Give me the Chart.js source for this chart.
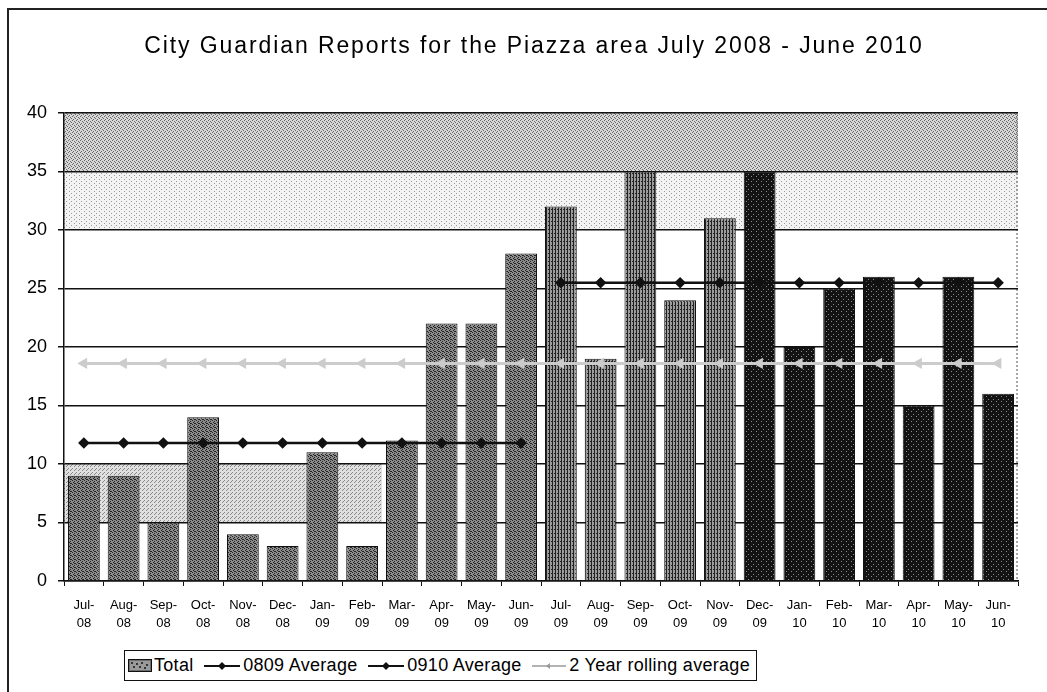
<!DOCTYPE html>
<html>
<head>
<meta charset="utf-8">
<title>City Guardian Reports</title>
<script src="https://cdn.jsdelivr.net/npm/chart.js@4.4.1/dist/chart.umd.min.js"></script>
<style>
  html, body { margin: 0; padding: 0; background: #fff; }
  #wrap { position: relative; width: 1047px; height: 692px; overflow: hidden; }
  #frame { position: absolute; left: 7px; top: 8px; width: 1100px; height: 700px;
           border-left: 2px solid #222; border-top: 2px solid #222; }
  #chart { position: absolute; left: 0; top: 0; }
  #legend { position: absolute; left: 124px; top: 650px; width: 633px; height: 31px; box-sizing: border-box;
            border: 1.5px solid #111; background: #fff; display: flex; align-items: center;
            justify-content: space-between; padding: 0 6px 0 3px;
            font: 18px 'Liberation Sans', Arial, sans-serif; letter-spacing: 0.3px; color: #000; white-space: nowrap; }
  #legend .sw { display: inline-block; margin-right: 2px; }
  #legend .item { display: inline-flex; align-items: center; }
</style>
</head>
<body>
<div id="wrap">
  <div id="frame"></div>
  <canvas id="chart" width="1047" height="692"></canvas>
  <div id="legend"></div>
</div>
<script>
// valeurs
var months = ['Jul-08', 'Aug-08', 'Sep-08', 'Oct-08', 'Nov-08', 'Dec-08', 'Jan-09', 'Feb-09',
              'Mar-09', 'Apr-09', 'May-09', 'Jun-09', 'Jul-09', 'Aug-09', 'Sep-09', 'Oct-09',
              'Nov-09', 'Dec-09', 'Jan-10', 'Feb-10', 'Mar-10', 'Apr-10', 'May-10', 'Jun-10'];
var totals = [9, 9, 5, 14, 4, 3, 11, 3, 12, 22, 22, 28,
              32, 19, 35, 24, 31, 35, 20, 25, 26, 15, 26, 16];
var avg0809 = [11.8, 11.8, 11.8, 11.8, 11.8, 11.8, 11.8, 11.8, 11.8, 11.8, 11.8, 11.8,
               null, null, null, null, null, null, null, null, null, null, null, null];
var avg0910 = [null, null, null, null, null, null, null, null, null, null, null, null,
               25.5, 25.5, 25.5, 25.5, 25.5, 25.5, 25.5, 25.5, 25.5, 25.5, 25.5, 25.5];
var rolling = [18.6, 18.6, 18.6, 18.6, 18.6, 18.6, 18.6, 18.6, 18.6, 18.6, 18.6, 18.6,
               18.6, 18.6, 18.6, 18.6, 18.6, 18.6, 18.6, 18.6, 18.6, 18.6, 18.6, 18.6];
var yTicks = [0, 5, 10, 15, 20, 25, 30, 35, 40];
var seriesNames = ['Total', '0809 Average', '0910 Average', '2 Year rolling average'];
var chartTitle = 'City Guardian Reports for the Piazza area July 2008 - June 2010';

(function () {
  'use strict';

  var FONT = "'Liberation Sans', Arial, sans-serif";
  var INK = '#111111';
  var ROLL = '#cccccc';

  // petites trames façon impression Excel
  function makePattern(w, h, base, dots, dotColor) {
    var c = document.createElement('canvas');
    c.width = w; c.height = h;
    var x = c.getContext('2d');
    x.fillStyle = base;
    x.fillRect(0, 0, w, h);
    x.fillStyle = dotColor;
    dots.forEach(function (d) { x.fillRect(d[0], d[1], d[2] || 1, d[3] || 1); });
    return x.createPattern(c, 'repeat');
  }

  var checker = makePattern(4, 4, '#8c8c8c', [[0, 0], [2, 1], [1, 2], [3, 3], [2, 3]], '#222222');
  var stripes = makePattern(3, 4, '#9c9c9c', [[0, 0, 1, 4], [2, 1]], '#222222');
  var dark = makePattern(5, 5, '#131313', [[1, 1], [3, 4]], '#8a8a8a');
  var bandTop = makePattern(4, 4, '#d8d8d8', [[0, 0], [2, 1], [1, 3], [3, 2]], '#666666');
  var bandMid = makePattern(5, 4, '#f3f3f3', [[1, 1], [4, 3]], '#9a9a9a');
  var bandLow = makePattern(4, 4, '#e0e0e0', [[0, 0], [2, 2], [3, 1]], '#888888');

  var barFill = totals.map(function (v, i) {
    if (i < 12) return checker;
    if (i < 17) return stripes;
    return dark;
  });

  var plotBackground = {
    id: 'plotBackground',
    beforeDraw: function (chart) {
      var a = chart.chartArea, y = chart.scales.y, x = chart.scales.x, ctx = chart.ctx;
      ctx.save();
      ctx.fillStyle = bandTop;
      ctx.fillRect(a.left, y.getPixelForValue(40), a.right - a.left, y.getPixelForValue(35) - y.getPixelForValue(40));
      ctx.fillStyle = bandMid;
      ctx.fillRect(a.left, y.getPixelForValue(35), a.right - a.left, y.getPixelForValue(30) - y.getPixelForValue(35));
      var half = (x.getPixelForValue(1) - x.getPixelForValue(0)) / 2;
      var xEnd = x.getPixelForValue(8) - half;
      ctx.fillStyle = bandLow;
      ctx.fillRect(a.left, y.getPixelForValue(10), xEnd - a.left, y.getPixelForValue(5) - y.getPixelForValue(10));
      // bord droit pointillé
      ctx.strokeStyle = '#8a8a8a';
      ctx.lineWidth = 1.5;
      ctx.setLineDash([2, 2]);
      ctx.beginPath();
      ctx.moveTo(a.right - 1, a.top);
      ctx.lineTo(a.right - 1, a.bottom);
      ctx.stroke();
      ctx.restore();
    }
  };

  // titre un peu espacé (la police du scan est plus large qu'Arial)
  var spacedTitle = {
    id: 'spacedTitle',
    afterDraw: function (chart) {
      var ctx = chart.ctx;
      ctx.save();
      ctx.font = '23px ' + FONT;
      if ('letterSpacing' in ctx) ctx.letterSpacing = '1.9px';
      ctx.fillStyle = '#000';
      ctx.textAlign = 'center';
      ctx.textBaseline = 'middle';
      ctx.fillText(chartTitle, 534, 47);
      ctx.restore();
    }
  };

  new Chart(document.getElementById('chart'), {
    type: 'bar',
    data: {
      labels: months.map(function (m) { return [m.slice(0, 4), m.slice(4)]; }),
      datasets: [
        {
          type: 'line', label: seriesNames[1], data: avg0809, order: 1,
          borderColor: INK, borderWidth: 2.5, pointStyle: 'rectRot', pointRadius: 4,
          pointBackgroundColor: INK, pointBorderColor: INK, spanGaps: false
        },
        {
          type: 'line', label: seriesNames[2], data: avg0910, order: 1,
          borderColor: INK, borderWidth: 2.5, pointStyle: 'rectRot', pointRadius: 4,
          pointBackgroundColor: INK, pointBorderColor: INK, spanGaps: false
        },
        {
          type: 'line', label: seriesNames[3], data: rolling, order: 2,
          borderColor: ROLL, borderWidth: 3, pointStyle: 'triangle', rotation: -90, pointRadius: 3.5,
          pointBackgroundColor: ROLL, pointBorderColor: ROLL
        },
        {
          label: seriesNames[0], data: totals, order: 3,
          backgroundColor: barFill, borderColor: INK, borderWidth: 1,
          barPercentage: 0.8, categoryPercentage: 1.0
        }
      ]
    },
    options: {
      responsive: false,
      animation: false,
      layout: { padding: { left: 8, right: 29, bottom: 60, top: 113 } },
      plugins: {
        legend: { display: false },
        tooltip: { enabled: false },
        title: { display: false }
      },
      scales: {
        x: {
          grid: { display: true, drawOnChartArea: false, drawTicks: true, tickLength: 5, color: INK, lineWidth: 1 },
          border: { display: true, color: INK, width: 1.5 },
          ticks: { color: '#000', padding: 11, maxRotation: 0, autoSkip: false,
                   font: { family: FONT, size: 13, lineHeight: 1.35 } },
          afterFit: function (s) { s.height = 51; }
        },
        y: {
          min: 0, max: 40,
          afterBuildTicks: function (s) { s.ticks = yTicks.map(function (v) { return { value: v }; }); },
          grid: { color: INK, lineWidth: 1.5, tickLength: 6 },
          border: { display: true, color: INK, width: 1.5 },
          ticks: { color: '#000', padding: 11, font: { family: FONT, size: 18 } },
          afterFit: function (s) { s.width = 56; }
        }
      }
    },
    plugins: [plotBackground, spacedTitle]
  });

  // légende HTML encadrée, comme dans l'original
  var legend = document.getElementById('legend');
  var lineSw = '<svg class="sw" width="38" height="12"><line x1="1" y1="6" x2="37" y2="6" stroke="#111" stroke-width="2"/><path d="M19 2l4 4-4 4-4-4z" fill="#111"/></svg>';
  var swatches = [
    '<svg class="sw" width="24" height="13"><rect x="0.5" y="0.5" width="23" height="12" fill="#6e6e6e" stroke="#111"/>' +
      '<rect x="2" y="2" width="20" height="9" fill="#9a9a9a"/><path d="M3 3h2v2h-2zM8 4h2v2h-2zM13 3h2v2h-2zM18 5h2v2h-2zM5 7h2v2h-2zM11 7h2v2h-2zM16 8h2v2h-2z" fill="#333"/></svg>',
    lineSw,
    lineSw,
    '<svg class="sw" width="36" height="12"><line x1="1" y1="6" x2="35" y2="6" stroke="#9a9a9a" stroke-width="1.5"/><path d="M15 6l4-3v6z" fill="#9a9a9a"/></svg>'
  ];
  legend.innerHTML = seriesNames.map(function (n, i) {
    return '<span class="item">' + swatches[i] + '<span>' + n + '</span></span>';
  }).join('');
})();
</script>
</body>
</html>
